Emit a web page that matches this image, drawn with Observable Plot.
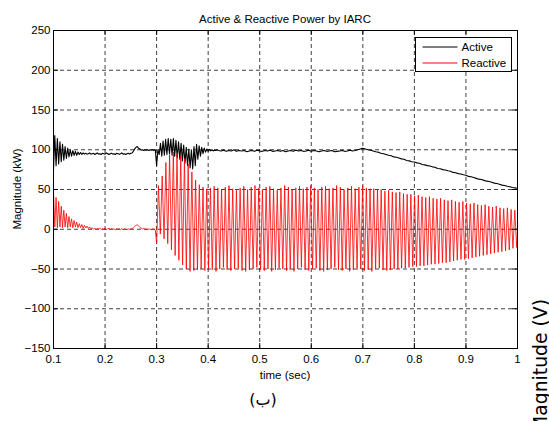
<!DOCTYPE html>
<html>
<head>
<meta charset="utf-8">
<script src="https://cdn.jsdelivr.net/npm/d3@7"></script>
<script src="https://cdn.jsdelivr.net/npm/@observablehq/plot@0.6"></script>
<style>
  html, body { margin: 0; padding: 0; background: #fff; }
</style>
</head>
<body>
<div id="chart"></div>
<script>
// ---------- data ----------
const titleText = "Active & Reactive Power by IARC";
const xLabelText = "time (sec)";
const yLabelText = "Magnitude (kW)";
const captionText = "(ب)";
const neighbourText = "Magnitude (V)";
const seriesNames = ["Active", "Reactive"];

const xTicks = [0.1, 0.2, 0.3, 0.4, 0.5, 0.6, 0.7, 0.8, 0.9, 1];
const xTickLabels = ["0.1", "0.2", "0.3", "0.4", "0.5", "0.6", "0.7", "0.8", "0.9", "1"];
const yTicks = [-150, -100, -50, 0, 50, 100, 150, 200, 250];

// Active power (kW), sampled segments
const active1Start = 0.1, active1Step = 0.0025;
const active1 = [74, 118, 80, 114, 82, 110, 85, 107, 87, 104, 89, 102, 91, 100, 92, 99, 93, 98, 93, 97, 94, 96.5, 94, 96, 94.5,
  95.5, 94.5, 95, 96, 94.5, 95, 95.5, 94, 95, 96, 94.5, 95, 94, 95.5, 95, 94.5, 96, 95, 94, 95, 95.5, 94.5, 95, 94, 95.5, 95, 94.5, 95, 96, 94.5, 95, 94, 95, 95.5, 94.5, 95.5,
  96, 98, 101, 103, 104, 102, 101, 99.5, 100, 99, 100, 99.5, 100, 99, 100, 99.5, 100, 99, 100];
const active2Start = 0.3, active2Step = 0.0025;
const active2 = [80, 100, 94, 108, 92, 111, 93, 113, 94, 114, 95, 113, 93, 114, 92, 112, 90, 110, 88, 108, 86, 106, 83, 103, 80, 101, 77, 100,
  76, 104, 80, 107, 88, 105, 92, 103, 95, 102, 97, 101, 98, 100.5, 98.5, 100, 98.5, 99.5, 99, 100];
const active3Start = 0.42, active3Step = 0.005;
const active3 = [99, 98.5, 99.5, 98, 99, 98.5, 100, 98, 99, 98.5, 99, 97.5, 98.5, 99, 98, 99.5, 98.5, 98, 99, 98.5, 99.5, 98, 98.5, 99,
  98, 99, 97.5, 98.5, 99, 98, 99.5, 98.5, 99, 98, 98.5, 99.5, 98, 99, 98.5, 97.5, 98.5, 99, 98, 98.5, 99, 97.5, 98, 98.5, 99, 98,
  98.5, 99.5, 98.5, 99, 100, 101];
const active4Start = 0.7, active4Step = 0.005;
const active4 = [102, 101, 100, 99.5, 98.5, 97.5, 97, 95.5, 95, 94, 93, 92.5, 91, 90.5, 89.5, 88.5, 88, 86.5, 86, 85, 84.5, 83.5, 83, 81.5,
  81, 80, 79.5, 78.5, 78, 76.5, 76, 75, 74.5, 73.5, 73, 71.5, 71, 70, 69.5, 68.5, 68, 66.5, 66, 65, 64, 63, 62.5, 61.5, 60.5, 60, 59,
  58, 57.5, 56.5, 55.5, 55, 54, 53.5, 52.5, 52, 51.5];

// Reactive power (kW)
const reactive1Start = 0.1, reactive1Step = 0.0025;
const reactive1 = [47, 3, 40, 2, 35, 3, 29, 2, 24, 3, 20, 2, 16, 3, 13, 2, 11, 3, 9, 2, 7, 2, 6, 1, 5, 1.5, 4, 1, 3, 0.5,
  2, 0, 1.5, -0.5, 1, 0.5, 1.5, -0.5, 1, 0, 1.5, -0.5, 0.5, 1, -0.5, 1, 0, 0.5, -1, 1, 0, 0.5, -0.5, 1, -1, 0.5, 0, -0.5, 0.5, 0,
  0.5, 1, 2, 3.5, 5, 5.5, 4, 2.5, 1.5, 0.5, 1, 0, 0.5, -0.5, 0.5, 0, -0.5, 0.5, 0, -1];
// oscillation after 0.3 s: one trough and one peak per cycle
const reactiveStart = 0.3, reactivePeriod = 0.0072;
const reactiveTroughs = [-18, -6, -12, -18, -26, -33, -39, -45, -50, -53, -52, -51,
  -50, -52, -49, -51, -53, -50, -48, -51, -52, -50, -49, -52, -53, -51, -50, -48, -51, -52, -50, -53, -51, -49, -50, -52, -51, -53,
  -50, -48, -51, -52, -50, -49, -52, -53, -51, -50, -48, -51, -52, -50, -53, -51, -49, -50, -52, -51, -53, -50, -49, -51, -52,
  -51, -50, -50, -49, -49, -48, -47, -47, -46, -46, -45, -44, -44, -43, -42, -42, -41, -40, -39, -38, -38, -37, -36, -35, -34,
  -33, -32, -31, -30, -29, -28, -27, -26, -24, -23];
const reactivePeaks = [55, 67, 84, 94, 97, 96, 93, 89, 82, 72, 62, 56, 53, 51, 52, 54,
  52, 50, 53, 55, 51, 49, 52, 54, 50, 53, 55, 52, 50, 53, 54, 51, 49, 52, 55, 53, 50, 52, 54, 51, 53, 55, 52, 50, 53, 54, 51, 52,
  55, 53, 50, 52, 54, 51, 53, 55, 52, 51,
  51, 50, 50, 48, 49, 47, 46, 47, 45, 44, 44, 42, 43, 41, 40, 41, 39, 38, 39, 37, 36, 37, 35, 34, 35, 33, 32, 33, 31, 30, 31, 29,
  28, 29, 27, 26, 27, 25, 24, 25];

// ---------- build tables ----------
function seg(values, start, step, series) {
  return values.map((v, i) => ({series, t: start + i * step, v}));
}
const activeRows = [
  ...seg(active1, active1Start, active1Step, "Active"),
  ...seg(active2, active2Start, active2Step, "Active"),
  ...seg(active3, active3Start, active3Step, "Active"),
  ...seg(active4, active4Start, active4Step, "Active")
];
const reactiveRows = [...seg(reactive1, reactive1Start, reactive1Step, "Reactive")];
const nCycles = Math.min(reactiveTroughs.length, reactivePeaks.length);
for (let k = 0; k < nCycles; k++) {
  reactiveRows.push({series: "Reactive", t: reactiveStart + k * reactivePeriod, v: reactiveTroughs[k]});
  reactiveRows.push({series: "Reactive", t: reactiveStart + (k + 0.5) * reactivePeriod, v: reactivePeaks[k]});
}

// ---------- chart ----------
const W = 549, H = 421;
const mL = 53, mR = 32, mT = 30, mB = 73;
const frameH = H - mT - mB, frameW = W - mL - mR;
const tickLen = 5;
const font = "'Liberation Sans', Arial, Helvetica, sans-serif";
const gridStyle = {stroke: "#000", strokeOpacity: 0.75, strokeDasharray: "4,3", strokeWidth: 1};

const svg = Plot.plot({
  width: W, height: H,
  marginLeft: mL, marginRight: mR, marginTop: mT, marginBottom: mB,
  style: {fontFamily: font, fontSize: "11.5px", color: "#000", background: "#fff"},
  x: {domain: [0.1, 1]},
  y: {domain: [-150, 250]},
  marks: [
    Plot.gridX(xTicks, gridStyle),
    Plot.gridY(yTicks, gridStyle),
    Plot.line(activeRows, {x: "t", y: "v", stroke: "#000", strokeWidth: 1.1, clip: true}),
    Plot.line(reactiveRows, {x: "t", y: "v", stroke: "#ff0000", strokeWidth: 0.8, clip: true}),
    Plot.tickX(xTicks, {x: d => d, insetTop: frameH - tickLen, stroke: "#000"}),
    Plot.tickX(xTicks, {x: d => d, insetBottom: frameH - tickLen, stroke: "#000"}),
    Plot.tickY(yTicks, {y: d => d, insetRight: frameW - tickLen, stroke: "#000"}),
    Plot.tickY(yTicks, {y: d => d, insetLeft: frameW - tickLen, stroke: "#000"}),
    Plot.frame({stroke: "#000", strokeWidth: 1}),
    Plot.axisX(xTicks, {tickSize: 0, tickPadding: 6, label: null, tickFormat: (d, i) => xTickLabels[i]}),
    Plot.axisY(yTicks, {tickSize: 0, tickPadding: 3, label: null})
  ]
});

const s = d3.select(svg);
const cx = mL + frameW / 2;
// title
s.append("text").attr("x", cx).attr("y", 23).attr("text-anchor", "middle")
  .attr("font-family", font).attr("font-size", 11.5).attr("fill", "#000").text(titleText);
// x label
s.append("text").attr("x", cx).attr("y", 379).attr("text-anchor", "middle")
  .attr("font-family", font).attr("font-size", 11.5).attr("fill", "#000").text(xLabelText);
// y label
s.append("text").attr("transform", `translate(21,${mT + frameH / 2}) rotate(-90)`).attr("text-anchor", "middle")
  .attr("font-family", font).attr("font-size", 11.5).attr("fill", "#000").text(yLabelText);
// caption
s.append("text").attr("x", 263).attr("y", 405).attr("text-anchor", "middle")
  .attr("font-family", "'DejaVu Sans', 'Noto Sans', sans-serif").attr("font-size", 16).attr("fill", "#000").text(captionText);
// neighbouring figure's axis label, cut by the window edge as in the reference
s.append("text").attr("transform", "translate(547,299) rotate(-90)").attr("text-anchor", "end")
  .attr("font-family", "'DejaVu Sans', sans-serif").attr("font-size", 18.8).attr("fill", "#000").text(neighbourText);

// legend
const lg = s.append("g");
const lx = 415.5, ly = 37.5, lw = 96, lh = 34;
lg.append("rect").attr("x", lx).attr("y", ly).attr("width", lw).attr("height", lh)
  .attr("fill", "#fff").attr("stroke", "#000").attr("stroke-width", 1);
const legendColors = ["#000", "#ff0000"];
seriesNames.forEach((name, i) => {
  const yy = ly + 9.5 + i * 16;
  lg.append("line").attr("x1", lx + 7).attr("x2", lx + 42).attr("y1", yy).attr("y2", yy)
    .attr("stroke", legendColors[i]).attr("stroke-width", 1);
  lg.append("text").attr("x", lx + 46).attr("y", yy + 4).attr("text-anchor", "start")
    .attr("font-family", font).attr("font-size", 11.5).attr("fill", "#000").text(name);
});

document.getElementById("chart").appendChild(svg);
</script>
</body>
</html>
